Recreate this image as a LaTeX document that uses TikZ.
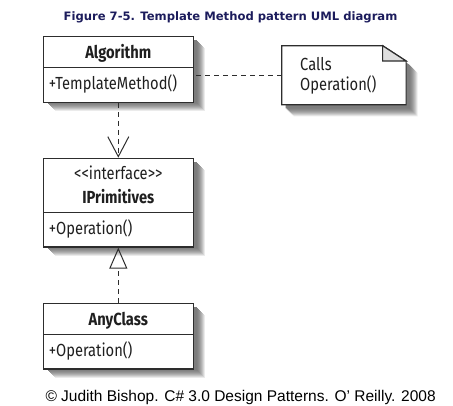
\documentclass[tikz,border=0pt]{standalone}
\usepackage{fontspec}
\setmainfont{Liberation Sans}
\newfontfamily\umlfont[FakeStretch=0.84]{Fira Sans}
\newfontfamily\titlefont{DejaVu Sans}
\usetikzlibrary{arrows.meta,shapes.multipart}

\definecolor{titleblue}{RGB}{28,28,92}
\definecolor{umlline}{RGB}{45,45,45}
\definecolor{foldgray}{RGB}{222,222,222}

\tikzset{
  umlclass/.style={rectangle split, rectangle split parts=2,
    draw=umlline, line width=1.2bp, fill=white, text=black!88,
    anchor=north west, text width=139bp, align=center,
    inner xsep=5.5bp, inner ysep=0pt,
    font=\umlfont\fontsize{17.5bp}{23.7bp}\selectfont},
  notebox/.style={anchor=north west, text width=87.4bp, inner xsep=18.3bp,
    inner ysep=0pt, align=left, text=black!88,
    font=\umlfont\fontsize{17.5bp}{20.5bp}\selectfont},
  depline/.style={dash pattern=on 5bp off 4bp, line width=1bp, draw=umlline}
}

\begin{document}
\begin{tikzpicture}[x=1bp, y=-1bp]
  \useasboundingbox (0,0) rectangle (453,405);

  % soft shadows, light outer layers first
  \foreach \sh/\gr in {12/8,11/16,10/24,9/31,8/37,7/42,6/46,5/49,4/51} {
    \foreach \top/\bot in {36/99.3,157.7/244.3,302.7/366}
      \fill[black!\gr] (42.7+\sh,\top+\sh) rectangle (192.7+\sh,\bot+\sh);
    \fill[black!\gr] (281.7+\sh,45.7+\sh) -- (382.2+\sh,45.7+\sh)
      -- (405.7+\sh,61+\sh) -- (405.7+\sh,104.3+\sh) -- (281.7+\sh,104.3+\sh) -- cycle;
  }

  \node[font=\titlefont\bfseries\fontsize{11.6bp}{13bp}\selectfont, text=titleblue,
    anchor=base] (title) at (230.5,20)
    {Figure 7-5. Template Method pattern UML diagram};

  % classes
  \node[umlclass] (alg) at (42.7,36)
    {\rule[-8.7bp]{0pt}{30bp}\bfseries Algorithm
     \nodepart{two}+TemplateMethod()\hfill\rule[-12bp]{0pt}{33.3bp}};
  \node[umlclass] (ipr) at (42.7,157.7)
    {\rule{0pt}{20.6bp}<{}<interface>{}>\\
     \bfseries IPrimitives\rule[-8.7bp]{0pt}{0pt}
     \nodepart{two}+Operation()\hfill\rule[-11.8bp]{0pt}{33.3bp}};
  \node[umlclass] (any) at (42.7,302.7)
    {\rule[-8.4bp]{0pt}{30bp}\bfseries AnyClass
     \nodepart{two}+Operation()\hfill\rule[-11.8bp]{0pt}{33.3bp}};

  % note with folded corner
  \node[notebox] (note) at (281.7,45.7)
    {\rule{0pt}{24.3bp}Calls\\Operation()\rule[-13.8bp]{0pt}{0pt}};
  \filldraw[draw=umlline, line width=1.2bp, fill=white]
    (note.north west) -- ([xshift=-23.5bp]note.north east)
    -- ([yshift=-15.3bp]note.north east) -- (note.south east)
    -- (note.south west) -- cycle;
  \filldraw[draw=umlline, line width=1.2bp, fill=foldgray]
    ([xshift=-23.5bp]note.north east) -- ([xshift=-23.5bp,yshift=-15.3bp]note.north east)
    -- ([yshift=-15.3bp]note.north east) -- cycle;
  \node[notebox] (notetext) at (note.north west)
    {\rule{0pt}{24.3bp}Calls\\Operation()\rule[-13.8bp]{0pt}{0pt}};

  % connectors
  \draw[depline] (note.west) -- (note.west -| alg.east);
  \draw[depline, -{Straight Barb[length=20bp,width=21bp]}] (alg.south) -- (ipr.north);
  \draw[depline, -{Triangle[open,length=21bp,width=18bp]}] (any.north) -- (ipr.south);

  \begin{scope}
    \clip (0,0) rectangle (453,405);
    \node[font=\fontsize{15.5bp}{17bp}\selectfont, anchor=base west] (copy) at (42,401)
      {© Judith Bishop. C\# 3.0 Design Patterns. O’ Reilly. 2008};
  \end{scope}
\end{tikzpicture}
\end{document}
